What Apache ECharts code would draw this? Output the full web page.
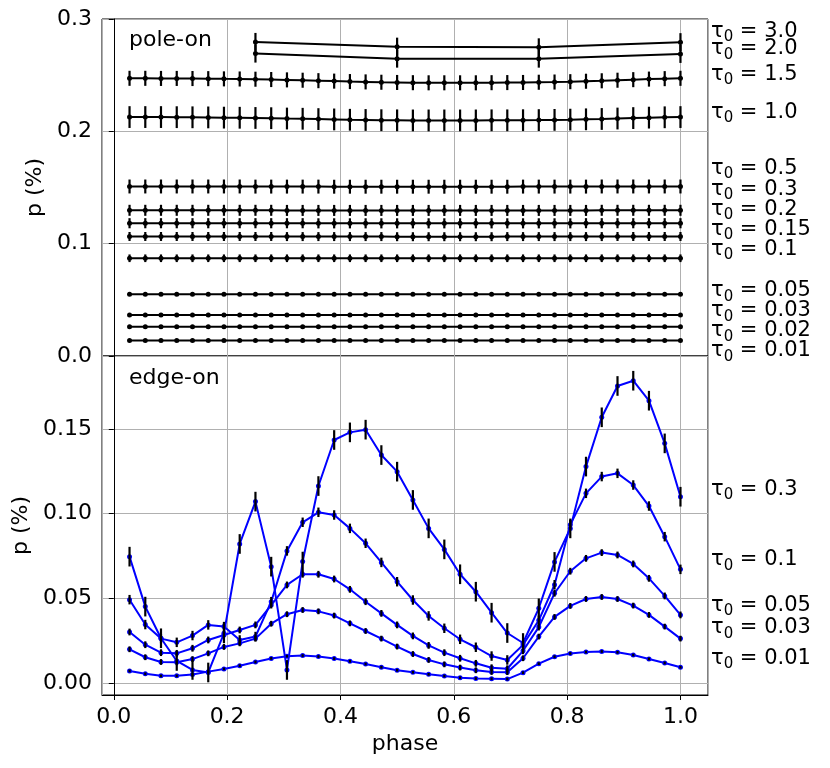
<!DOCTYPE html>
<html>
<head>
<meta charset="utf-8">
<script src="https://cdn.jsdelivr.net/npm/echarts@6/dist/echarts.min.js"></script>
<style>
  html, body { margin: 0; background: #fff; }
  #chart { width: 830px; height: 768px; }
</style>
</head>
<body>
<div id="chart"></div>
<script>
// phases of the 36 samples, and the coarse grid used for the thickest runs
const phase = [0.0278,0.0556,0.0833,0.1111,0.1389,0.1667,0.1944,0.2222,0.25,0.2778,0.3056,0.3333,
  0.3611,0.3889,0.4167,0.4444,0.4722,0.5,0.5278,0.5556,0.5833,0.6111,0.6389,0.6667,
  0.6944,0.7222,0.75,0.7778,0.8056,0.8333,0.8611,0.8889,0.9167,0.9444,0.9722,1.0];
const phaseCoarse = [0.25, 0.5, 0.75, 1.0];

// pole-on, p (%)
const poleTau30 = [0.2796, 0.2754, 0.2748, 0.2794];
const poleTau20 = [0.2692, 0.2647, 0.2647, 0.2689];
const poleTau15 = [0.2472,0.2472,0.2471,0.2471,0.2470,0.2469,0.2467,0.2466,0.2464,0.2461,0.2458,0.2455,
  0.2451,0.2447,0.2443,0.2440,0.2437,0.2435,0.2433,0.2432,0.2432,0.2432,0.2432,0.2433,
  0.2434,0.2435,0.2437,0.2439,0.2442,0.2446,0.2450,0.2455,0.2460,0.2465,0.2469,0.2472];
const poleTau10 = [0.2127,0.2127,0.2127,0.2126,0.2125,0.2124,0.2122,0.2121,0.2119,0.2117,0.2114,0.2112,
  0.2109,0.2106,0.2103,0.2101,0.2099,0.2098,0.2097,0.2097,0.2097,0.2097,0.2097,0.2098,
  0.2098,0.2099,0.2100,0.2102,0.2104,0.2107,0.2110,0.2114,0.2118,0.2122,0.2125,0.2127];
const poleTau05 = [0.1509,0.1509,0.1509,0.1509,0.1509,0.1509,0.1509,0.1509,0.1508,0.1508,0.1508,0.1508,
  0.1508,0.1507,0.1507,0.1507,0.1507,0.1507,0.1507,0.1507,0.1507,0.1507,0.1507,0.1507,
  0.1507,0.1508,0.1508,0.1508,0.1508,0.1508,0.1509,0.1509,0.1509,0.1509,0.1509,0.1509];
const poleTau03 = [0.1297,0.1297,0.1297,0.1297,0.1297,0.1297,0.1297,0.1297,0.1297,0.1297,0.1296,0.1296,
  0.1296,0.1296,0.1296,0.1296,0.1296,0.1296,0.1296,0.1296,0.1296,0.1296,0.1296,0.1296,
  0.1296,0.1296,0.1296,0.1296,0.1296,0.1296,0.1297,0.1297,0.1297,0.1297,0.1297,0.1297];
const poleTau02 = [0.1182,0.1182,0.1182,0.1182,0.1182,0.1182,0.1182,0.1182,0.1182,0.1182,0.1182,0.1182,
  0.1181,0.1181,0.1181,0.1181,0.1181,0.1181,0.1181,0.1181,0.1181,0.1181,0.1181,0.1181,
  0.1181,0.1181,0.1181,0.1181,0.1181,0.1182,0.1182,0.1182,0.1182,0.1182,0.1182,0.1182];
const poleTau015 = [0.1064,0.1064,0.1064,0.1064,0.1064,0.1064,0.1064,0.1064,0.1064,0.1064,0.1063,0.1063,
  0.1063,0.1063,0.1063,0.1063,0.1063,0.1062,0.1062,0.1062,0.1062,0.1062,0.1062,0.1062,
  0.1063,0.1063,0.1063,0.1063,0.1063,0.1063,0.1063,0.1064,0.1064,0.1064,0.1064,0.1064];
const poleTau01 = [0.0870,0.0870,0.0870,0.0870,0.0870,0.0870,0.0870,0.0870,0.0870,0.0870,0.0870,0.0870,
  0.0870,0.0870,0.0870,0.0870,0.0870,0.0870,0.0870,0.0870,0.0870,0.0870,0.0870,0.0870,
  0.0870,0.0870,0.0870,0.0870,0.0870,0.0870,0.0870,0.0870,0.0870,0.0870,0.0870,0.0870];
const poleTau005 = [0.0550,0.0550,0.0550,0.0550,0.0550,0.0550,0.0550,0.0550,0.0550,0.0550,0.0550,0.0550,
  0.0550,0.0550,0.0550,0.0550,0.0550,0.0550,0.0550,0.0550,0.0550,0.0550,0.0550,0.0550,
  0.0550,0.0550,0.0550,0.0550,0.0550,0.0550,0.0550,0.0550,0.0550,0.0550,0.0550,0.0550];
const poleTau003 = [0.0365,0.0365,0.0365,0.0365,0.0365,0.0365,0.0365,0.0365,0.0365,0.0365,0.0365,0.0365,
  0.0365,0.0365,0.0365,0.0365,0.0365,0.0365,0.0365,0.0365,0.0365,0.0365,0.0365,0.0365,
  0.0365,0.0365,0.0365,0.0365,0.0365,0.0365,0.0365,0.0365,0.0365,0.0365,0.0365,0.0365];
const poleTau002 = [0.0261,0.0261,0.0261,0.0261,0.0261,0.0261,0.0261,0.0261,0.0261,0.0261,0.0261,0.0261,
  0.0261,0.0261,0.0261,0.0261,0.0261,0.0261,0.0261,0.0261,0.0261,0.0261,0.0261,0.0261,
  0.0261,0.0261,0.0261,0.0261,0.0261,0.0261,0.0261,0.0261,0.0261,0.0261,0.0261,0.0261];
const poleTau001 = [0.0137,0.0137,0.0137,0.0137,0.0137,0.0137,0.0137,0.0137,0.0137,0.0137,0.0137,0.0137,
  0.0137,0.0137,0.0137,0.0137,0.0137,0.0137,0.0137,0.0137,0.0137,0.0137,0.0137,0.0137,
  0.0137,0.0137,0.0137,0.0137,0.0137,0.0137,0.0137,0.0137,0.0137,0.0137,0.0137,0.0137];

// edge-on, p (%)
const edgeTau03 = [0.0746,0.0451,0.0264,0.0130,0.0077,0.0062,0.0293,0.0821,0.1071,0.0687,0.0077,0.0717,
  0.1163,0.1435,0.1480,0.1496,0.1346,0.1248,0.1081,0.0913,0.0789,0.0642,0.0539,0.0415,
  0.0295,0.0236,0.0441,0.0715,0.0913,0.1278,0.1569,0.1754,0.1785,0.1667,0.1415,0.1100];
const edgeTau01 = [0.0492,0.0345,0.0262,0.0240,0.0280,0.0343,0.0333,0.0254,0.0274,0.0480,0.0780,0.0949,
  0.1008,0.0992,0.0913,0.0825,0.0712,0.0598,0.0490,0.0396,0.0323,0.0258,0.0211,0.0159,
  0.0136,0.0225,0.0370,0.0580,0.0935,0.1120,0.1219,0.1238,0.1169,0.1045,0.0864,0.0671];
const edgeTau005 = [0.0301,0.0226,0.0179,0.0175,0.0205,0.0254,0.0283,0.0313,0.0343,0.0460,0.0579,0.0642,
  0.0642,0.0614,0.0553,0.0480,0.0411,0.0343,0.0278,0.0222,0.0179,0.0146,0.0116,0.0090,
  0.0084,0.0190,0.0330,0.0530,0.0660,0.0736,0.0770,0.0756,0.0703,0.0618,0.0514,0.0402];
const edgeTau003 = [0.0199,0.0152,0.0124,0.0122,0.0141,0.0175,0.0213,0.0234,0.0262,0.0350,0.0406,0.0431,
  0.0423,0.0398,0.0352,0.0307,0.0262,0.0215,0.0171,0.0136,0.0110,0.0091,0.0075,0.0065,
  0.0064,0.0146,0.0274,0.0390,0.0455,0.0496,0.0508,0.0496,0.0457,0.0402,0.0333,0.0262];
const edgeTau001 = [0.0071,0.0054,0.0042,0.0042,0.0050,0.0067,0.0083,0.0102,0.0124,0.0145,0.0158,0.0162,
  0.0156,0.0144,0.0128,0.0112,0.0093,0.0075,0.0063,0.0051,0.0041,0.0031,0.0026,0.0025,
  0.0023,0.0061,0.0114,0.0155,0.0174,0.0183,0.0186,0.0181,0.0165,0.0142,0.0118,0.0093];

// half-length of the error bars, one per run
const poleErr = [0.008, 0.008, 0.0067, 0.0097, 0.0062, 0.0049, 0.0045, 0.004, 0.0034, 0.0015, 0.001, 0.001, 0.001];
const edgeErr = [0.0058, 0.0028, 0.002, 0.0017, 0.0008];

// labels on the right
const poleLabels = ['3.0', '2.0', '1.5', '1.0', '0.5', '0.3', '0.2', '0.15', '0.1', '0.05', '0.03', '0.02', '0.01'];
const poleLabelY = [0.2906, 0.2752, 0.2527, 0.2186, 0.1689, 0.1502, 0.1324, 0.1145, 0.0967, 0.0597, 0.0419, 0.0241, 0.0062];
const edgeLabels = ['0.3', '0.1', '0.05', '0.03', '0.01'];
const edgeLabelY = [0.1157, 0.0738, 0.0472, 0.0337, 0.0159];

const poleRuns = [poleTau30, poleTau20, poleTau15, poleTau10, poleTau05, poleTau03, poleTau02,
  poleTau015, poleTau01, poleTau005, poleTau003, poleTau002, poleTau001];
const edgeRuns = [edgeTau03, edgeTau01, edgeTau005, edgeTau003, edgeTau001];

const X_MIN = -0.0208, X_MAX = 1.0486;
const FONT = 'DejaVu Sans';

let chart = echarts.init(document.getElementById('chart'));

function runSeries(xs, ys, idx, color) {
  return {
    type: 'line',
    xAxisIndex: idx,
    yAxisIndex: idx,
    data: xs.map((x, i) => [x, ys[i]]),
    symbol: 'circle',
    symbolSize: 5,
    showSymbol: true,
    lineStyle: { color: color, width: 2 },
    itemStyle: { color: color },
    z: 3,
    silent: true
  };
}

function errSeries(xs, ys, err, idx) {
  return {
    type: 'custom',
    xAxisIndex: idx,
    yAxisIndex: idx,
    data: xs.map((x, i) => [x, ys[i] - err, ys[i] + err]),
    encode: { x: 0, y: [1, 2] },
    renderItem: function (params, api) {
      let a = api.coord([api.value(0), api.value(1)]);
      let b = api.coord([api.value(0), api.value(2)]);
      return {
        type: 'line',
        shape: { x1: a[0], y1: a[1], x2: b[0], y2: b[1] },
        style: { stroke: '#000', lineWidth: 2.2 }
      };
    },
    z: 4,
    silent: true
  };
}

// tau_0 labels: the 0 is set as a lowered, smaller subscript
function labelSeries(texts, ys, idx) {
  return {
    type: 'scatter',
    xAxisIndex: idx,
    yAxisIndex: idx,
    symbolSize: 0,
    itemStyle: { opacity: 1 },
    data: texts.map((t, i) => [X_MAX, ys[i], t]),
    label: {
      show: true,
      opacity: 1,
      position: 'right',
      distance: 3,
      offset: [0, 2],
      formatter: p => '{t|τ}{s|0}{e| = ' + p.data[2] + '}',
      rich: {
        t: { fontFamily: FONT, fontSize: 21, lineHeight: 27, color: '#000' },
        s: { fontFamily: FONT, fontSize: 15, lineHeight: 15, color: '#000', verticalAlign: 'bottom' },
        e: { fontFamily: FONT, fontSize: 21, lineHeight: 27, color: '#000' }
      }
    },
    silent: true,
    z: 6
  };
}

let series = [];
poleRuns.forEach((ys, i) => {
  let xs = i < 2 ? phaseCoarse : phase;
  series.push(runSeries(xs, ys, 0, '#000'));
  series.push(errSeries(xs, ys, poleErr[i], 0));
});
edgeRuns.forEach((ys, i) => {
  series.push(runSeries(phase, ys, 1, '#0000ff'));
  series.push(errSeries(phase, ys, edgeErr[i], 1));
});
series.push(labelSeries(poleLabels, poleLabelY, 0));
series.push(labelSeries(edgeLabels, edgeLabelY, 1));

const gridLine = { show: true, lineStyle: { color: '#b0b0b0', width: 1 } };
const tickLabel = { fontFamily: FONT, fontSize: 22, color: '#000' };

var option = {
  animation: false,
  backgroundColor: '#fff',
  grid: [
    { left: 102, right: 122, top: 19, height: 337, show: true, borderColor: '#000', borderWidth: 1 },
    { left: 102, right: 122, top: 356, height: 339, show: true, borderColor: '#000', borderWidth: 1 }
  ],
  xAxis: [
    {
      gridIndex: 0, type: 'value', min: X_MIN, max: X_MAX, splitNumber: 5,
      axisLine: { show: false }, axisTick: { show: false }, axisLabel: { show: false },
      splitLine: gridLine
    },
    {
      gridIndex: 1, type: 'value', min: X_MIN, max: X_MAX, splitNumber: 5,
      axisLine: { show: true, onZero: false, lineStyle: { color: '#000' } },
      axisTick: { show: true, length: 5, lineStyle: { color: '#000' } },
      axisLabel: Object.assign({ margin: 11, showMinLabel: false, showMaxLabel: false,
        formatter: v => v.toFixed(1) }, tickLabel),
      splitLine: gridLine,
      name: 'phase', nameLocation: 'middle', nameGap: 38,
      nameTextStyle: { fontFamily: FONT, fontSize: 22, color: '#000' }
    }
  ],
  yAxis: [
    {
      gridIndex: 0, type: 'value', min: 0, max: 0.3, interval: 0.1,
      axisLine: { show: true, lineStyle: { color: '#000' } },
      axisTick: { show: true, length: 5, lineStyle: { color: '#000' } },
      axisLabel: Object.assign({ margin: 10, formatter: v => v.toFixed(1) }, tickLabel),
      splitLine: gridLine,
      name: 'p (%)', nameLocation: 'middle', nameGap: 47,
      nameTextStyle: { fontFamily: FONT, fontSize: 22, color: '#000' }
    },
    {
      gridIndex: 1, type: 'value', min: -0.0071, max: 0.1931, splitNumber: 4,
      axisLine: { show: true, lineStyle: { color: '#000' } },
      axisTick: { show: true, length: 5, lineStyle: { color: '#000' } },
      axisLabel: Object.assign({ margin: 10, showMinLabel: false, showMaxLabel: false,
        formatter: v => v.toFixed(2) }, tickLabel),
      splitLine: gridLine,
      name: 'p (%)', nameLocation: 'middle', nameGap: 47,
      nameTextStyle: { fontFamily: FONT, fontSize: 22, color: '#000' }
    }
  ],
  graphic: [
    { type: 'text', left: 129, top: 29, style: { text: 'pole-on', fontFamily: FONT, fontSize: 22, fill: '#000' } },
    { type: 'text', left: 129, top: 367, style: { text: 'edge-on', fontFamily: FONT, fontSize: 22, fill: '#000' } }
  ],
  series: series
};

chart.setOption(option);
</script>
</body>
</html>
